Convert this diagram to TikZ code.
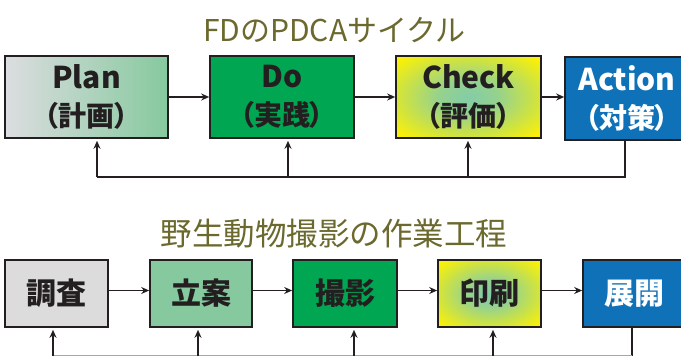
\documentclass[tikz,border=0pt]{standalone}
\usepackage{fontspec}
\setmainfont{Noto Sans CJK JP}
\usetikzlibrary{arrows.meta,calc}
\definecolor{olive}{HTML}{6B692E}
\definecolor{ink}{HTML}{231F20}
\definecolor{gr1}{HTML}{DCDDE0}
\definecolor{gr2}{HTML}{86C99E}
\definecolor{dgreen}{HTML}{00A651}
\definecolor{yel}{HTML}{FFF200}
\definecolor{mint}{HTML}{82CCA8}
\definecolor{blu}{HTML}{0F71B8}
\definecolor{lgray}{HTML}{DCDCDC}
\newcommand\subtxt{\fontsize{28}{28}\selectfont\addfontfeature{RawFeature=+palt}}
\pgfdeclareradialshading{checkshade}{\pgfpoint{0bp}{0bp}}{color(0bp)=(mint); color(10bp)=(mint!85!yel); color(34bp)=(yel); color(50bp)=(yel)}
\tikzset{
  box/.style={draw=ink, line width=1.6pt, rectangle, inner sep=0pt, text=ink,
    font=\bfseries\fontsize{30}{37}\selectfont, align=center},
  title/.style={text=olive, font=\fontsize{30}{30}\selectfont, inner sep=0pt},
  arr/.style={draw=ink, line width=1.8pt, -{Stealth[length=8pt,width=7pt]}},
  ln/.style={draw=ink, line width=1.8pt},
}
\begin{document}
\begin{tikzpicture}[x=1pt,y=-1pt]
\useasboundingbox (0,0) rectangle (681,356);
% titles
\node[title] (t1) at (334.5,30) {FDのPDCAサイクル};
\node[title, font=\fontsize{31.5}{31.5}\selectfont] (t2) at (334,234) {野生動物撮影の作業工程};
% top row
\node[box, minimum width=163pt, minimum height=82pt, left color=gr1, right color=gr2] (plan) at (86.5,97) {Plan\\[1pt]{\subtxt （計画）}};
\node[box, minimum width=144pt, minimum height=82pt, fill=dgreen] (do) at (282,97) {Do\\[1pt]{\subtxt （実践）}};
\node[box, minimum width=145pt, minimum height=82pt, shading=checkshade] (check) at (468.5,97) {Check\\[1pt]{\subtxt （評価）}};
\node[box, minimum width=124pt, minimum height=83pt, fill=blu, text=white] (action) at (627,98.5) {Action\\[1pt]{\subtxt （対策）}};
\draw[arr] (plan.east) -- (do.west |- plan.east);
\draw[arr] (do.east) -- (check.west |- do.east);
\draw[arr] (check.east) -- (action.west |- check.east);
\coordinate (fa) at (625,177);
\coordinate (fp) at (97,177);
\draw[ln] (action.south -| fa) -- (fa) -- (fp);
\draw[arr] (fp) -- ([yshift=-2pt]plan.south -| fp);
\draw[arr] (288,177) -- ([yshift=-2pt]do.south -| 288,0);
\draw[arr] (468,177) -- ([yshift=-2pt]check.south -| 468,0);
% bottom row
\node[box, minimum width=103pt, minimum height=67pt, fill=lgray] (chosa) at (56.5,293.5) {調査};
\node[box, minimum width=102pt, minimum height=67pt, fill=gr2] (rian) at (201,293.5) {立案};
\node[box, minimum width=104pt, minimum height=67pt, fill=dgreen] (satsu) at (345,293.5) {撮影};
\node[box, minimum width=103pt, minimum height=67pt, shading=checkshade] (insatsu) at (489.5,293.5) {印刷};
\node[box, minimum width=103pt, minimum height=67pt, fill=blu, text=white] (tenkai) at (634.5,293.5) {展開};
\draw[arr] ([yshift=3pt]chosa.east) -- ([yshift=3pt]rian.west);
\draw[arr] ([yshift=3pt]rian.east) -- ([yshift=3pt]satsu.west);
\draw[arr] ([yshift=3pt]satsu.east) -- ([yshift=3pt]insatsu.west);
\draw[arr] ([yshift=3pt]insatsu.east) -- ([yshift=3pt]tenkai.west);
\coordinate (ba) at (632,355.5);
\coordinate (bc) at (53,355.5);
\draw[ln] (tenkai.south -| ba) -- (ba);
\draw[draw=gray!70, line width=1.2pt] (ba) -- (bc);
\draw[arr] (bc) -- ([yshift=-2pt]chosa.south -| bc);
\draw[arr] (198,355.5) -- ([yshift=-2pt]rian.south -| 198,0);
\draw[arr] (354,355.5) -- ([yshift=-2pt]satsu.south -| 354,0);
\draw[arr] (493,355.5) -- ([yshift=-2pt]insatsu.south -| 493,0);
\end{tikzpicture}
\end{document}
